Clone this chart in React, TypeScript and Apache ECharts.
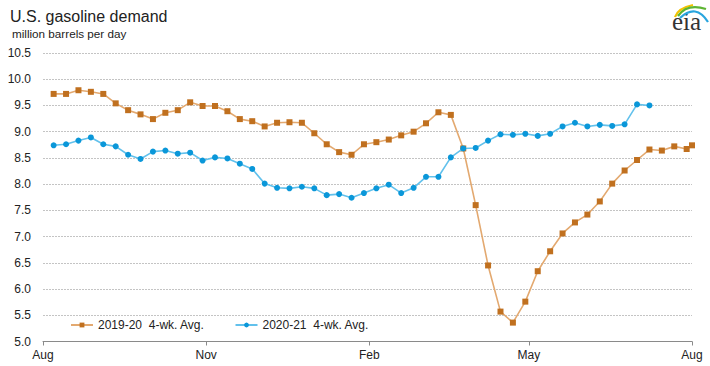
import React, { useEffect, useRef } from "react";
import * as echarts from "echarts";

// Week index 0 ≈ Aug 7; values in million barrels per day
const series1Name = "2019-20  4-wk. Avg.";
const series2Name = "2020-21  4-wk. Avg.";

const values2019 = [
  9.72, 9.72, 9.79, 9.76, 9.72, 9.54, 9.41, 9.33, 9.24, 9.36,
  9.41, 9.56, 9.49, 9.49, 9.39, 9.24, 9.2, 9.1, 9.17, 9.18,
  9.17, 8.97, 8.76, 8.61, 8.56, 8.76, 8.8, 8.85, 8.93, 9.0,
  9.16, 9.37, 9.32, 8.68, 7.6, 6.45, 5.57, 5.36, 5.76, 6.34,
  6.72, 7.06, 7.27, 7.42, 7.67, 8.01, 8.26, 8.46, 8.66, 8.64,
  8.72, 8.67, 8.74,
];

const values2020 = [
  8.74, 8.76, 8.83, 8.89, 8.76, 8.72, 8.56, 8.48, 8.62, 8.64,
  8.58, 8.6, 8.45, 8.51, 8.49, 8.39, 8.29, 8.01, 7.93, 7.92,
  7.95, 7.92, 7.79, 7.81, 7.74, 7.83, 7.92, 7.99, 7.83, 7.93,
  8.14, 8.14, 8.51, 8.68, 8.69, 8.83, 8.95, 8.94, 8.96, 8.92,
  8.96, 9.1, 9.17, 9.1, 9.13, 9.11, 9.14, 9.52, 9.5,
];

// day offsets from Aug 1 (weekly points, the 2019-20 series ends with a point on Aug 1)
const firstDay = 6;
const extraLastDay2019 = 366;

const monthTicks = [0, 92, 184, 274, 366];
const monthLabels = ["Aug", "Nov", "Feb", "May", "Aug"];

const yTicksMin = 5;
const yTicksMax = 10.5;
const yInterval = 0.5;

function weekDay(i: number): number {
  return firstDay + 7 * i;
}

export default function App() {
  const ref = useRef<HTMLDivElement>(null);
  useEffect(() => {
    if (!ref.current) return;
    const chart = echarts.init(ref.current, null, { renderer: "svg" });
    const data2019 = values2019.map((v, i) =>
      i < values2019.length - 1 ? [weekDay(i), v] : [extraLastDay2019, v]
    );
    const data2020 = values2020.map((v, i) => [weekDay(i), v]);
    const font = "'Liberation Sans', Arial, sans-serif";
    chart.setOption({
      animation: false,
      backgroundColor: "#ffffff",
      textStyle: { fontFamily: font },
      grid: {
        left: 43,
        right: 18,
        top: 53,
        bottom: 24.5,
        containLabel: false,
        outerBoundsMode: "none",
      },
      legend: {
        left: 70,
        top: 319,
        padding: 0,
        itemWidth: 22,
        itemHeight: 6,
        itemGap: 30,
        textStyle: { fontSize: 12, color: "#222", fontFamily: font },
        data: [series1Name, series2Name],
      },
      xAxis: {
        type: "value",
        min: 0,
        max: 366,
        splitLine: { show: false },
        axisLine: { show: true, lineStyle: { color: "#8a8a8a", width: 1 } },
        axisTick: {
          show: true,
          customValues: monthTicks,
          length: 4,
          lineStyle: { color: "#8a8a8a" },
        },
        axisLabel: {
          customValues: monthTicks,
          formatter: (v: number) => {
            const idx = monthTicks.indexOf(Math.round(v));
            return idx >= 0 ? monthLabels[idx] : "";
          },
          fontSize: 12,
          color: "#222",
          margin: 7,
          fontFamily: font,
          showMinLabel: true,
          showMaxLabel: true,
        },
      },
      yAxis: {
        type: "value",
        min: yTicksMin,
        max: yTicksMax,
        interval: yInterval,
        axisLine: { show: false },
        axisTick: { show: false },
        axisLabel: {
          formatter: (v: number) => v.toFixed(1),
          fontSize: 12,
          color: "#222",
          margin: 12,
          fontFamily: font,
        },
        splitLine: {
          show: true,
          lineStyle: { color: "#c4c4c4", type: [2, 1], width: 1 },
        },
      },
      series: [
        {
          name: series1Name,
          type: "line",
          data: data2019,
          symbol: "rect",
          symbolSize: 6,
          showSymbol: true,
          itemStyle: { color: "#c0701f" },
          lineStyle: { color: "#e3a970", width: 1.6 },
          z: 2,
        },
        {
          name: series2Name,
          type: "line",
          data: data2020,
          symbol: "circle",
          symbolSize: 6,
          showSymbol: true,
          itemStyle: { color: "#0a97d9" },
          lineStyle: { color: "#62c1ec", width: 1.6 },
          z: 3,
        },
      ],
      graphic: [
        {
          type: "text",
          left: 10,
          top: 8,
          style: {
            text: "U.S. gasoline demand",
            fontSize: 16,
            fill: "#222",
            fontFamily: font,
          },
        },
        {
          type: "text",
          left: 12,
          top: 27,
          style: {
            text: "million barrels per day",
            fontSize: 11.7,
            fill: "#222",
            fontFamily: font,
          },
        },
        {
          type: "text",
          left: 672,
          top: 9,
          style: {
            text: "eia",
            fontSize: 25,
            fill: "#333",
            fontFamily: "'Liberation Serif', 'DejaVu Serif', serif",
          },
        },
        {
          type: "bezierCurve",
          shape: { x1: 675, y1: 17, x2: 693, y2: 5, cpx1: 678, cpy1: 8 },
          style: { stroke: "#f3c300", lineWidth: 2.2, fill: "none" },
        },
        {
          type: "bezierCurve",
          shape: { x1: 678, y1: 16, x2: 706, y2: 9, cpx1: 687, cpy1: 3 },
          style: { stroke: "#5db533", lineWidth: 2.2, fill: "none" },
        },
        {
          type: "bezierCurve",
          shape: { x1: 680, y1: 18, x2: 708, y2: 22, cpx1: 696, cpy1: 3 },
          style: { stroke: "#29a5de", lineWidth: 2.2, fill: "none" },
        },
      ],
    });
    return () => chart.dispose();
  }, []);
  return (
    <div
      ref={ref}
      style={{ position: "fixed", left: 0, top: 0, width: 710, height: 366 }}
    />
  );
}
